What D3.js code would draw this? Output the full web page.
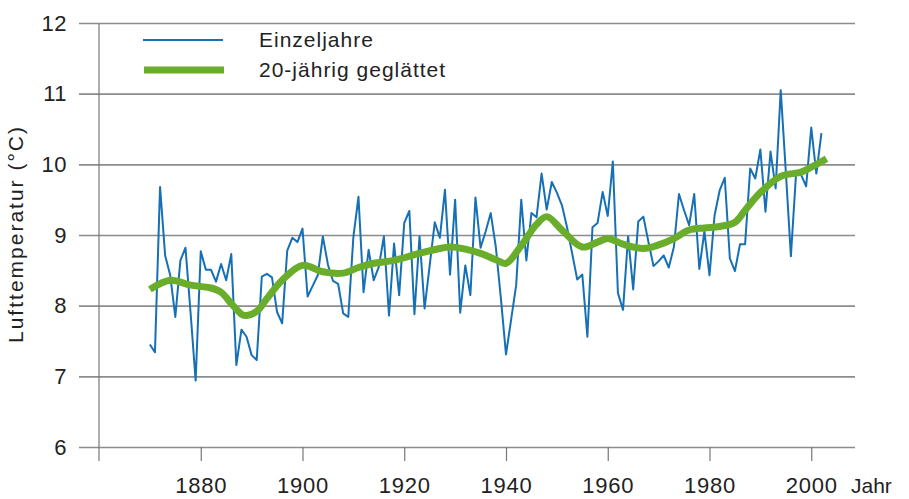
<!DOCTYPE html>
<html>
<head>
<meta charset="utf-8">
<script src="https://cdn.jsdelivr.net/npm/d3@7"></script>
<style>
  body { margin: 0; background: #fff; }
  text { font-family: "Liberation Sans", Arial, sans-serif; fill: #222; }
</style>
</head>
<body>
<svg width="909" height="499"></svg>
<script>
// yearly mean air temperature, 1870 .. 2002
var firstYear = 1870;
var einzeljahre = [
  7.45, 7.34, 9.68, 8.71, 8.43, 7.84, 8.64, 8.82, 7.90, 6.94,
  8.77, 8.51, 8.51, 8.34, 8.59, 8.36, 8.73, 7.16, 7.66, 7.56,
  7.30, 7.23, 8.41, 8.45, 8.40, 7.91, 7.75, 8.78, 8.96, 8.90,
  9.09, 8.13, 8.28, 8.43, 8.98, 8.58, 8.35, 8.31, 7.89, 7.84,
  8.97, 9.54, 8.19, 8.79, 8.36, 8.55, 8.98, 7.86, 8.88, 8.15,
  9.17, 9.34, 7.88, 8.98, 7.96, 8.57, 9.18, 8.96, 9.64, 8.44,
  9.50, 7.90, 8.57, 8.15, 9.53, 8.82, 9.05, 9.31, 8.83, 8.10,
  7.31, 7.80, 8.29, 9.50, 8.64, 9.31, 9.25, 9.87, 9.36, 9.75,
  9.60, 9.42, 9.11, 8.74, 8.37, 8.44, 7.56, 9.11, 9.17, 9.61,
  9.27, 10.04, 8.18, 7.94, 8.98, 8.23, 9.19, 9.26, 8.90, 8.56,
  8.63, 8.71, 8.54, 8.83, 9.58, 9.35, 9.14, 9.58, 8.52, 9.05,
  8.43, 9.28, 9.63, 9.81, 8.67, 8.49, 8.87, 8.87, 9.94, 9.80,
  10.21, 9.33, 10.18, 9.66, 11.05, 9.90, 8.70, 9.85, 9.85, 9.69,
  10.52, 9.87, 10.44
];

var glattYears = [1870, 1874, 1878, 1882, 1884, 1886, 1888, 1889, 1891, 1893, 1896, 1900,
  1904, 1908, 1911, 1914, 1918, 1923, 1929, 1932, 1935, 1938, 1940, 1943, 1946, 1948,
  1951, 1955, 1958, 1960, 1963, 1967, 1970, 1973, 1976, 1979, 1982, 1985, 1987, 1990,
  1994, 1998, 2000, 2003];
var glattValues = [8.23, 8.36, 8.29, 8.25, 8.19, 8.03, 7.88, 7.86, 7.92, 8.10, 8.36, 8.57,
  8.48, 8.46, 8.54, 8.60, 8.64, 8.74, 8.83, 8.80, 8.74, 8.65, 8.60, 8.85, 9.15, 9.26,
  9.07, 8.83, 8.90, 8.95, 8.87, 8.81, 8.86, 8.95, 9.07, 9.10, 9.12, 9.18, 9.35, 9.60,
  9.83, 9.89, 9.96, 10.08];

var yTicks = [6, 7, 8, 9, 10, 11, 12];
var xTicks = [1880, 1900, 1920, 1940, 1960, 1980, 2000];
var legendLabels = ["Einzeljahre", "20-jährig geglättet"];

var blue = "#1670b5";
var green = "#6aad2b";
var grid = "#8c8c8c";

var svg = d3.select("svg");

var x = d3.scaleLinear().domain([1860, 2008.6]).range([99, 855]);
var y = d3.scaleLinear().domain([6, 12]).range([447, 23]);

// horizontal grid lines with the y labels on the left
var axisY = d3.axisLeft(y).tickValues(yTicks).tickSize(855 - 79).tickPadding(12)
  .tickFormat(d3.format("d"));
var gY = svg.append("g")
  .attr("transform", "translate(855,0)")
  .call(axisY);
gY.select(".domain").remove();
gY.selectAll(".tick line").attr("stroke", grid).attr("stroke-width", 1.6);
gY.selectAll(".tick text")
  .attr("font-size", 22)
  .attr("fill", "#222")
  .style("font-family", "'Liberation Sans', Arial, sans-serif")
  .style("letter-spacing", "0.5px");

// vertical axis line
svg.append("line")
  .attr("x1", x(1860)).attr("x2", x(1860))
  .attr("y1", y(12) + 1).attr("y2", y(6) + 14)
  .attr("stroke", "#777").attr("stroke-width", 1.2);

// x ticks below the 6 line
var axisX = d3.axisBottom(x).tickValues(xTicks).tickSize(14).tickPadding(16)
  .tickFormat(d3.format("d"));
var gX = svg.append("g")
  .attr("transform", "translate(0," + y(6) + ")")
  .call(axisX);
gX.select(".domain").remove();
gX.selectAll(".tick line").attr("stroke", "#777").attr("stroke-width", 1.2);
gX.selectAll(".tick text")
  .attr("font-size", 22)
  .attr("fill", "#222")
  .style("font-family", "'Liberation Sans', Arial, sans-serif")
  .style("letter-spacing", "0.8px");

svg.append("text")
  .attr("x", 851)
  .attr("y", 493)
  .attr("font-size", 21)
  .text("Jahr");

// y axis title
svg.append("text")
  .attr("transform", "translate(23," + 234 + ") rotate(-90)")
  .attr("text-anchor", "middle")
  .attr("font-size", 21)
  .style("letter-spacing", "2px")
  .text("Lufttemperatur (°C)");

// yearly values
var einzelLine = d3.line()
  .x(function (d, i) { return x(firstYear + i); })
  .y(function (d) { return y(d); });

svg.append("path")
  .datum(einzeljahre)
  .attr("fill", "none")
  .attr("stroke", blue)
  .attr("stroke-width", 2)
  .attr("stroke-linejoin", "round")
  .attr("d", einzelLine);

// smoothed curve
var glattLine = d3.line()
  .curve(d3.curveCatmullRom.alpha(0.5))
  .x(function (d, i) { return x(glattYears[i]); })
  .y(function (d) { return y(d); });

svg.append("path")
  .datum(glattValues)
  .attr("fill", "none")
  .attr("stroke", green)
  .attr("stroke-width", 7)
  .attr("d", glattLine);

// legend
var legend = svg.append("g");
legend.append("line")
  .attr("x1", 143).attr("x2", 223).attr("y1", 40).attr("y2", 40)
  .attr("stroke", blue).attr("stroke-width", 2);
legend.append("line")
  .attr("x1", 144).attr("x2", 224).attr("y1", 70).attr("y2", 70)
  .attr("stroke", green).attr("stroke-width", 7);
legend.selectAll("text.leg")
  .data(legendLabels)
  .enter()
  .append("text")
  .attr("class", "leg")
  .attr("x", 259)
  .attr("y", function (d, i) { return 47 + i * 30; })
  .attr("font-size", 21)
  .style("letter-spacing", "1px")
  .text(function (d) { return d; });
</script>
</body>
</html>
